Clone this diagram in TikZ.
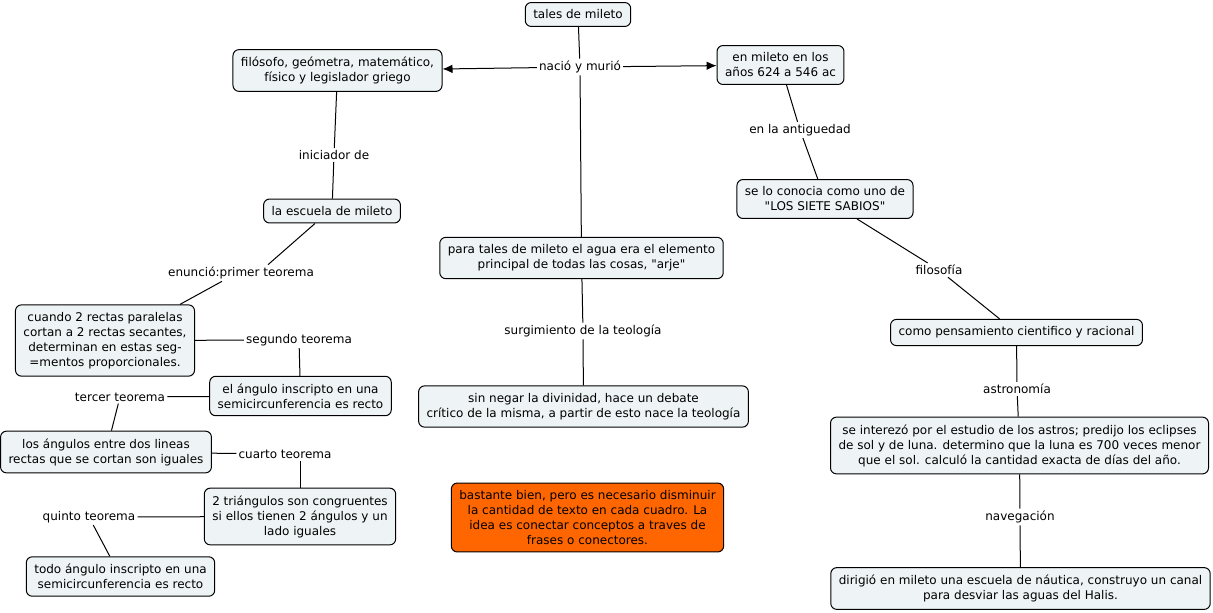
\documentclass[tikz,border=0pt]{standalone}
\usepackage{fontspec}
\setmainfont{DejaVu Sans}[Ligatures=TeXOff]
\usetikzlibrary{arrows.meta,calc}
\definecolor{boxfill}{RGB}{238,243,245}
\definecolor{noteorange}{RGB}{255,102,0}
\begin{document}
\begin{tikzpicture}[x=0.75pt,y=-0.75pt,
  concept/.style={draw=black, fill=boxfill, rounded corners=4.5pt, line width=0.75pt,
    align=center, inner xsep=6pt, inner ysep=5.5pt, font=\fontsize{9}{11.25}\selectfont},
  note/.style={concept, fill=noteorange},
  linkl/.style={inner sep=1.5pt, font=\fontsize{9}{11.25}\selectfont},
  conn/.style={line width=0.75pt},
  arr/.style={conn, -{Latex[length=7.5pt,width=6.5pt]}}]
\useasboundingbox (0,0) rectangle (1213,612);

% concepts
\node[concept] (tales) at (578,14.5) {tales de mileto};
\node[concept] (filo) at (337.5,70.5) {filósofo, geómetra, matemático,\\físico y legislador griego};
\node[concept] (mileto) at (780.5,65) {en mileto en los\\años 624 a 546 ac};
\node[concept] (escuela) at (332,211) {la escuela de mileto};
\node[concept] (selo) at (825,199) {se lo conocia como uno de\\"LOS SIETE SABIOS"};
\node[concept] (para) at (581.5,258) {para tales de mileto el agua era el elemento\\principal de todas las cosas, "arje"};
\node[concept] (cuando) at (105,340.5) {cuando 2 rectas paralelas\\cortan a 2 rectas secantes,\\determinan en estas seg-\\=mentos proporcionales.};
\node[concept] (angulo) at (300.5,396) {el ángulo inscripto en una\\semicircunferencia es recto};
\node[concept] (como) at (1016.5,332.5) {como pensamiento cientifico y racional};
\node[concept] (sin) at (583.5,406.5) {sin negar la divinidad, hace un debate\\crítico de la misma, a partir de esto nace la teología};
\node[concept] (angulos) at (106,452) {los ángulos entre dos lineas\\rectas que se cortan son iguales};
\node[concept] (astros) at (1019.5,445.5) {se interezó por el estudio de los astros; predijo los eclipses\\de sol y de luna. determino que la luna es 700 veces menor\\que el sol. calculó la cantidad exacta de días del año.};
\node[concept] (tri) at (300,516.5) {2 triángulos son congruentes\\si ellos tienen 2 ángulos y un\\lado iguales};
\node[note] (nota) at (587.5,517.5) {bastante bien, pero es necesario disminuir\\la cantidad de texto en cada cuadro.  La\\idea es conectar conceptos a traves de\\frases o conectores.};
\node[concept] (todo) at (120.5,576.5) {todo ángulo inscripto en una\\semicircunferencia es recto};
\node[concept] (dirigio) at (1020.5,588.5) {dirigió en mileto una escuela de náutica, construyo un canal\\para desviar las aguas del Halis.};

% linking phrases
\node[linkl] (nacio) at (580,67) {nació y murió};
\node[linkl] (inic) at (334,155) {iniciador de};
\node[linkl] (anti) at (800,130) {en la antiguedad};
\node[linkl] (filosofia) at (939,270) {filosofía};
\node[linkl] (enun) at (241,273) {enunció:primer teorema};
\node[linkl] (segundo) at (299,340) {segundo teorema};
\node[linkl] (surg) at (583,331) {surgimiento de la teología};
\node[linkl] (tercer) at (120,397) {tercer teorema};
\node[linkl] (astro) at (1017,389) {astronomía};
\node[linkl] (cuarto) at (285,454) {cuarto teorema};
\node[linkl] (quinto) at (89,517) {quinto teorema};
\node[linkl] (nav) at (1020,517) {navegación};

% connectors
\draw[conn] (tales) -- (nacio);
\draw[arr] (nacio) -- (filo);
\draw[arr] (nacio) -- (mileto);
\draw[conn] (nacio) -- (para);
\draw[conn] (filo) -- (inic) -- (escuela);
\draw[conn] (mileto) -- (anti) -- (selo);
\draw[conn] (selo) -- (filosofia) -- (como);
\draw[conn] ([xshift=-12.75pt]escuela.south) -- ([xshift=20.25pt]enun.north);
\draw[conn] ([xshift=-14.25pt]enun.south) -- ([xshift=56.25pt]cuando.north);
\draw[conn] (cuando) -- (segundo) -- (angulo);
\draw[conn] (para) -- (surg) -- (sin);
\draw[conn] (angulo) -- (tercer) -- (angulos);
\draw[conn] (como) -- (astro) -- (astros);
\draw[conn] (angulos) -- (cuarto);
\draw[conn] (tri.north) -- (tri.north |- cuarto.south);
\draw[conn] (tri) -- (quinto) -- (todo);
\draw[conn] (astros) -- (nav) -- (dirigio);
\end{tikzpicture}
\end{document}
